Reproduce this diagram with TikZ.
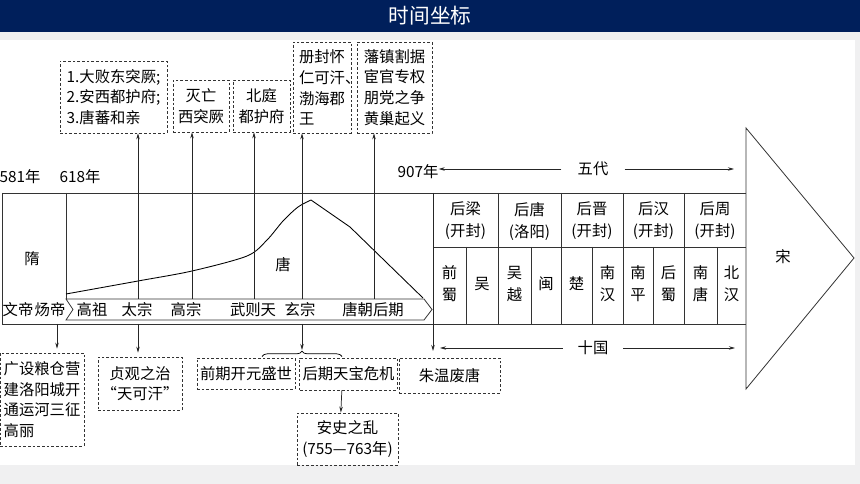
\documentclass[tikz,border=0pt]{standalone}
\usepackage{fontspec}
\newfontfamily\cjk{Noto Sans CJK SC}
\usetikzlibrary{positioning,arrows.meta,decorations.pathreplacing,calc}
\definecolor{title_navy}{RGB}{0,31,91}
\definecolor{slide_gray}{RGB}{240,240,241}

\begin{document}
\begin{tikzpicture}[x=0.75pt,y=-0.75pt,
		every node/.style={font=\cjk\fontsize{11.5}{15.5}\selectfont, inner sep=0pt},
		box_size/.style 2 args={minimum width=#1*0.75pt, minimum height=#2*0.75pt},
		note_box/.style={draw=black!80, dash pattern=on 2pt off 1.5pt, line width=0.55pt, inner sep=2pt},
		frame_line/.style={line width=0.6pt, black!80},
		tip_style/.style={-{Stealth[length=4.5pt,width=2.6pt]}, line width=0.55pt, black!85},
		cell_text/.style={align=center, font=\cjk\fontsize{11.5}{16.5}\selectfont}
		]
		\useasboundingbox (0,0) rectangle (860,484);
		\fill[slide_gray] (0,0) rectangle (860,484);
		\fill[white] (0,40) rectangle (855,465);
		\fill[title_navy] (0,0) rectangle (860,32);
		\node[text=white, font=\cjk\fontsize{15.5}{18}\selectfont] (title) at (430,16) {时间坐标};
		
		\draw[frame_line] (2,193) -- (746,193); \draw[frame_line] (2,324) -- (746,324);
		\draw[frame_line] (2,193) -- (2,324); \draw[frame_line] (66,193) -- (66,299);
		\draw[frame_line] (433,247) -- (746,247);
		\foreach \gx in {498,561,623,684} \draw[frame_line] (\gx,193) -- (\gx,324);
		\foreach \gx in {466,531,592,653,717} \draw[frame_line] (\gx,247) -- (\gx,324);
		\draw[frame_line, fill=white] (746,128) -- (854,258) -- (746,389) -- cycle;
		\draw[frame_line] (66,299) -- (424,299) -- (432,309.5) -- (424,320) -- (66,320) -- (73,309.5) -- cycle;
		\draw[line width=0.65pt] plot[smooth, tension=0.5] coordinates {(66,294) (138,281) (192,271) (247,256) (267,240) (283,221) (298,207) (311,200)} -- (350,227) -- (423,298);
		
		\node (year_581) at (20,177) {581年}; \node (year_618) at (80,177) {618年};
		\node (year_907) at (418,172) {907年};
		\node (sui) at (32,259) {隋}; \node (tang) at (283,265) {唐}; \node (song) at (783,257) {宋};
		\foreach \ex/\ename [count=\i] in {18/文帝, 50/炀帝, 92/高祖, 137/太宗, 186/高宗, 253/武则天, 300/玄宗, 373/唐朝后期}
			\node (ruler_\i) at (\ex,310) {\ename};
		\foreach \dx/\dname/\dcap [count=\i] in {465.5/后梁/开封, 529.5/后唐/洛阳, 592/后晋/开封, 653.5/后汉/开封, 715/后周/开封}
			\node[cell_text] (dynasty_\i) at (\dx,221) {\dname\\(\dcap)};
		\foreach \kx/\kname [count=\i] in {449.5/{前\\蜀}, 482/吴, 514.5/{吴\\越}, 546/闽, 576.5/楚, 607.5/{南\\汉}, 638/{南\\平}, 668.5/{后\\蜀}, 700.5/{南\\唐}, 731.5/{北\\汉}}
			\node[cell_text] (kingdom_\i) at (\kx,284) {\kname};
		
		\node[note_box, box_size={107}{72}, align=left] (box_east_turks) at (113.5,97) {1.大败东突厥;\\2.安西都护府;\\3.唐蕃和亲};
		\node[note_box, box_size={56}{52}, align=center] (box_west_turks) at (201,106) {灭亡\\西突厥};
		\node[note_box, box_size={57}{52}, align=center] (box_beiting) at (261.5,106) {北庭\\都护府};
		\node[note_box, box_size={58}{91}, align=left] (box_khan) at (322,87.5) {册封怀\\仁可汗\rlap{、}\\渤海郡\\王};
		\node[note_box, box_size={75}{91}, align=center] (box_late_tang) at (394.5,87.5) {藩镇割据\\宦官专权\\朋党之争\\黄巢起义};
		
		\node[note_box, box_size={84}{93}, align=left] (box_sui) at (42,399.5) {广设粮仓营\\建洛阳城开\\通运河三征\\高丽};
		\node[note_box, box_size={84}{53}, align=center] (box_zhenguan) at (140,383.5) {贞观之治\\“天可汗”};
		\node[note_box, box_size={98}{31}] (box_kaiyuan) at (246,373.5) {前期开元盛世};
		\node[note_box, box_size={97}{32}] (box_tianbao) at (348.5,374) {后期天宝危机};
		\node[note_box, box_size={101}{52}, align=center] (box_anshi) at (347.5,439) {安史之乱\\(755—763年)};
		\node[note_box, box_size={101}{35}] (box_zhuwen) at (449.5,375.5) {朱温废唐};
		
		\foreach \bx/\target in {138/box_east_turks, 192/box_west_turks, 254/box_beiting, 302/box_khan, 374/box_late_tang} {
			\coordinate (band_top) at (\bx,299);
			\draw[tip_style] (band_top) -- (band_top |- \target.south);
		}
		\coordinate (sui_foot) at (57,324); \coordinate (taizong_foot) at (138,324);
		\coordinate (xuanzong_foot) at (302,324); \coordinate (liang_top) at (433,193);
		\coordinate (brace_tip) at (302,350);
		\draw[tip_style, shorten >=3pt] (sui_foot) -- (sui_foot |- box_sui.north);
		\draw[tip_style, shorten >=3pt] (taizong_foot) -- (taizong_foot |- box_zhenguan.north);
		\draw[tip_style] (xuanzong_foot) -- (brace_tip);
		\draw[tip_style, shorten >=5pt] (liang_top) -- (liang_top |- box_zhuwen.north);
		\draw[tip_style] ([xshift=-5pt]box_tianbao.south) -- ([xshift=-5pt]box_anshi.north);
		\draw[line width=0.55pt, decorate, decoration={brace, amplitude=4pt}] (262,356.5) -- (342,356.5);
		
		\node[inner xsep=12pt] (wudai) at (593,169) {五代};
		\coordinate (wudai_end) at (734,169);
		\draw[tip_style] (wudai.west) -- (year_907.east |- wudai.west);
		\draw[tip_style] (wudai.east) -- (wudai_end);
		\node[inner xsep=11pt] (shiguo) at (593,348) {十国};
		\coordinate (shiguo_start) at (440,348); \coordinate (shiguo_end) at (735,348);
		\draw[tip_style] (shiguo.west) -- (shiguo_start);
		\draw[tip_style] (shiguo.east) -- (shiguo_end);
	\end{tikzpicture}
\end{document}
